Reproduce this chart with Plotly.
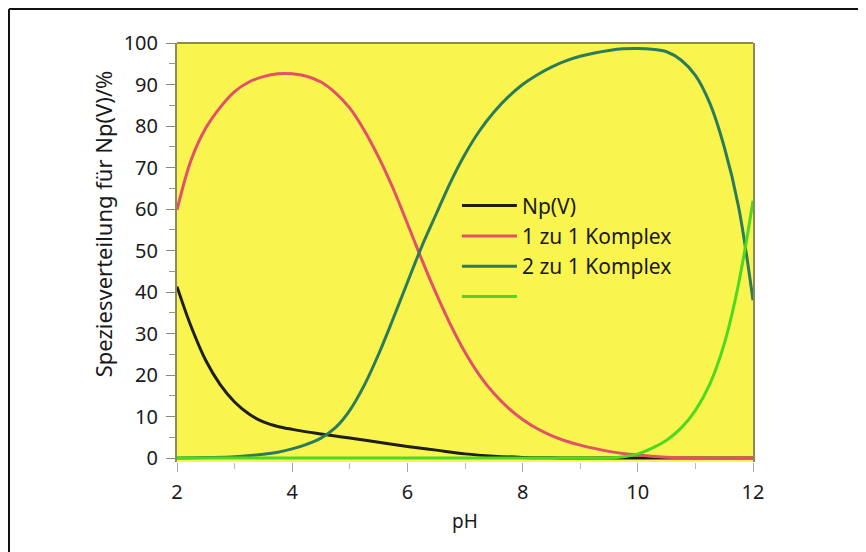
import plotly.graph_objects as go

# values (pH, % of Np(V))
ph_np = [2.0, 2.25, 2.5, 2.75, 3.0, 3.25, 3.5, 3.75, 4.0, 4.25, 4.5, 4.75, 5.0, 5.5, 6.0, 6.5, 7.0, 7.5, 8.0, 8.5, 9.0, 10.0, 11.0, 12.0]
np_v = [41.3, 31.5, 23.5, 17.7, 13.5, 10.6, 8.7, 7.6, 6.9, 6.3, 5.8, 5.3, 4.8, 3.8, 2.8, 1.9, 1.0, 0.45, 0.15, 0.05, 0, 0, 0, 0]

ph_11 = [2.0, 2.25, 2.5, 2.75, 3.0, 3.25, 3.5, 3.75, 4.0, 4.25, 4.5, 4.75, 5.0, 5.25, 5.5, 5.75, 6.0, 6.25, 6.5,
         6.75, 7.0, 7.25, 7.5, 7.75, 8.0, 8.25, 8.5, 8.75, 9.0, 9.5, 10.0, 10.5, 11.0, 12.0]
komplex_11 = [59.8, 72, 79.5, 84.5, 88.3, 90.6, 91.9, 92.6, 92.6, 92, 90.6, 88, 84.3, 79, 72.5, 65, 56.5, 47.8, 39.6,
              32.1, 25.5, 20.0, 15.6, 12.1, 9.3, 7.1, 5.4, 4.1, 3.1, 1.6, 0.7, 0.2, 0, 0]

ph_21 = [2.0, 2.5, 3.0, 3.5, 3.75, 4.0, 4.25, 4.5, 4.75, 5.0, 5.25, 5.5, 5.75, 6.0, 6.25, 6.5, 6.75, 7.0, 7.25, 7.5,
         7.75, 8.0, 8.25, 8.5, 8.75, 9.0, 9.25, 9.5, 9.75, 10.0, 10.25, 10.5, 10.75, 11.0, 11.25, 11.5, 11.75, 12.0]
komplex_21 = [0, 0.1, 0.3, 0.9, 1.4, 2.2, 3.3, 4.8, 7.3, 11.5, 17.5, 25, 33.5, 42.3, 51, 58.8, 66.5, 73.2, 78.8, 83.3,
              87, 90, 92.3, 94.2, 95.7, 96.8, 97.6, 98.2, 98.6, 98.7, 98.5, 97.9, 95.9, 92.2, 85.5, 75, 60.5, 38]

ph_g = [2.0, 3.0, 4.0, 5.0, 6.0, 7.0, 8.0, 9.0, 9.5, 9.75, 10.0, 10.25, 10.5, 10.75, 11.0, 11.25, 11.5, 11.75, 12.0]
gruen = [0, 0, 0, 0, 0, 0, 0, 0, 0, 0.3, 1, 2.4, 4.3, 7.2, 11.5, 17.8, 27.5, 42, 62]

names = ["Np(V)", "1 zu 1 Komplex", "2 zu 1 Komplex", " "]
colors = ["#1e1e12", "#e2506a", "#2a7c5a", "#4fd820"]

fig = go.Figure()
for xs, ys, name, col in zip([ph_np, ph_11, ph_21, ph_g], [np_v, komplex_11, komplex_21, gruen], names, colors):
    fig.add_trace(go.Scatter(x=xs, y=ys, name=name, mode="lines",
                             line=dict(color=col, width=3, shape="spline", smoothing=1, simplify=False)))

# the page body has an 8px margin, so the figure is made 8px smaller and shifted
font = "Noto Sans, Open Sans, sans-serif"
fig.update_layout(
    width=858, height=544,
    margin=dict(l=169, r=113, t=35, b=90),
    paper_bgcolor="white",
    plot_bgcolor="#faf54e",
    font=dict(family=font, size=20, color="#1a1a1a"),
    showlegend=True,
    legend=dict(x=0.486, y=0.66, xanchor="left", yanchor="top", itemwidth=55,
                bgcolor="rgba(0,0,0,0)", font=dict(size=21), tracegroupgap=0),
    xaxis=dict(range=[2, 12], tickvals=[2, 4, 6, 8, 10, 12], showgrid=False, zeroline=False,
               ticks="outside", ticklen=9, tickcolor="#a8a898", ticklabelstandoff=3,
               minor=dict(dtick=1, ticks="outside", ticklen=6, tickcolor="#bcbcb0"),
               showline=False, title=dict(text="pH", font=dict(size=19), standoff=10)),
    yaxis=dict(range=[-0.96, 100], dtick=10, showgrid=False, zeroline=False,
               ticks="outside", ticklen=9, tickcolor="#8a8a72", ticklabelstandoff=4,
               minor=dict(dtick=5, ticks="outside", ticklen=6, tickcolor="#9a9a80"),
               showline=True, linecolor="#8c8a58", linewidth=2, mirror=True),
)

# y title sits above the middle of the axis in the original
fig.add_annotation(text="Speziesverteilung für Np(V)/%", textangle=-90, showarrow=False,
                   xref="paper", yref="paper", x=-0.128, y=0.568,
                   xanchor="center", yanchor="middle", font=dict(size=22))

# olive top edge of the plot area and the thin outer frame of the picture
fig.add_shape(type="line", xref="paper", yref="paper", x0=0, x1=1, y0=1, y1=1,
              line=dict(color="#8c8a58", width=2))
fig.add_shape(type="line", xref="paper", yref="paper", x0=-0.2917, x1=1.3, y0=1.0811, y1=1.0811,
              line=dict(color="#111111", width=2))
fig.add_shape(type="line", xref="paper", yref="paper", x0=-0.2917, x1=-0.2917, y0=1.0811, y1=-0.25,
              line=dict(color="#111111", width=2))

fig.write_html("out.html")
